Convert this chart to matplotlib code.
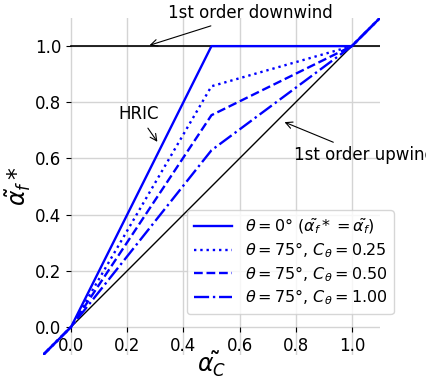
import matplotlib
matplotlib.use('Agg')
import matplotlib.pyplot as plt

# normalised face value vs normalised cell value
alpha_c = [-0.1, 0.0, 0.5, 1.0, 1.1]
hric = [-0.1, 0.0, 1.0, 1.0, 1.1]
c_025 = [-0.1, 0.0, 0.857, 1.0, 1.1]
c_050 = [-0.1, 0.0, 0.754, 1.0, 1.1]
c_100 = [-0.1, 0.0, 0.629, 1.0, 1.1]

downwind_x = [0.0, 1.1]
downwind_y = [1.0, 1.0]
upwind_x = [-0.1, 1.1]
upwind_y = [-0.1, 1.1]

ticks = [0.0, 0.2, 0.4, 0.6, 0.8, 1.0]
labels = [r'$\theta = 0°$ ($\tilde{\alpha_f}* = \tilde{\alpha_f}$)',
          r'$\theta = 75°$, $C_\theta = 0.25$',
          r'$\theta = 75°$, $C_\theta = 0.50$',
          r'$\theta = 75°$, $C_\theta = 1.00$']

plt.rcParams['font.size'] = 12

fig = plt.figure(figsize=(4.27, 3.78), dpi=100)
ax = fig.add_axes([0.1007, 0.0608, 0.789, 0.8915])

ax.set_xlim(-0.1, 1.1)
ax.set_ylim(-0.1, 1.1)

# grid: vertical lines span everything, horizontal ones start at x=0
ax.grid(axis='x', color='#d4d4d4', lw=1)
ax.hlines(ticks, 0.0, 1.1, color='#d4d4d4', lw=1, zorder=0.5)

ax.plot(downwind_x, downwind_y, 'k', lw=1.2)
ax.plot(upwind_x, upwind_y, 'k', lw=1)

ax.plot(alpha_c, hric, 'b-', lw=1.7, label=labels[0])
ax.plot(alpha_c, c_025, 'b:', lw=1.7, label=labels[1])
ax.plot(alpha_c, c_050, 'b--', lw=1.7, label=labels[2])
ax.plot(alpha_c, c_100, 'b-.', lw=1.7, label=labels[3])

for s in ['left', 'bottom']:
    ax.spines[s].set_position(('data', 0))
    ax.spines[s].set_color('none')
for s in ['right', 'top']:
    ax.spines[s].set_visible(False)

ax.set_xticks(ticks)
ax.set_yticks(ticks)
ax.set_xticklabels(['%.1f' % t for t in ticks])
ax.set_yticklabels(['%.1f' % t for t in ticks])

ax.set_xlabel(r'$\tilde{\alpha_C}$', fontsize=17)
ax.set_ylabel(r'$\tilde{\alpha_f}*$', fontsize=17)
ax.xaxis.set_label_coords(0.5, 0.015)
ax.yaxis.set_label_coords(-0.03, 0.5)

arrow = dict(arrowstyle='->', color='k', lw=0.8)
ax.annotate('1st order downwind', xy=(0.27, 1.0), xytext=(0.64, 1.117),
            ha='center', va='center', arrowprops=arrow, annotation_clip=False)
ax.annotate('HRIC', xy=(0.313, 0.651), xytext=(0.239, 0.758),
            ha='center', va='center', arrowprops=arrow)
ax.annotate('1st order upwind', xy=(0.751, 0.733), xytext=(0.794, 0.612),
            ha='left', va='center', arrowprops=arrow)

ax.legend(loc='lower right', bbox_to_anchor=(0.922, 0.17),
          bbox_transform=fig.transFigure, fontsize=11.5, handlelength=2.4,
          labelspacing=0.25, borderaxespad=0)

fig.savefig('out.png', dpi=100)
